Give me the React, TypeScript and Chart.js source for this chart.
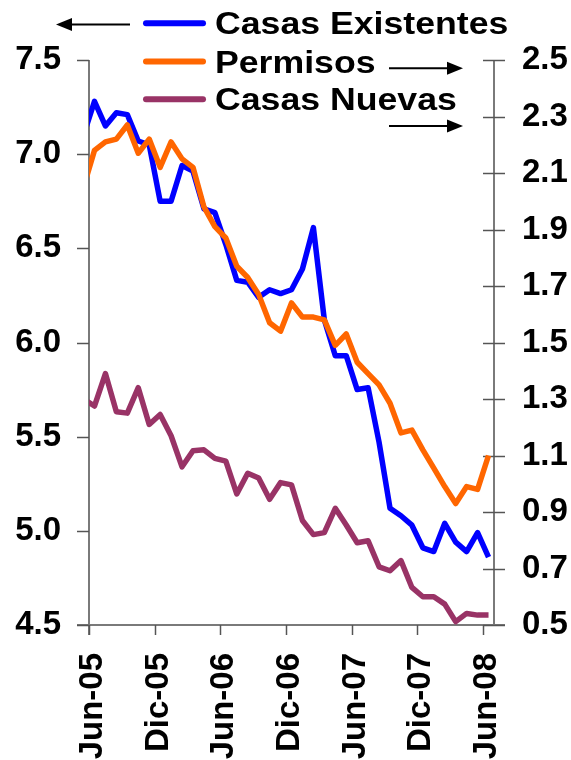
import React, { useEffect, useRef } from 'react';
import { Chart, registerables } from 'chart.js';

Chart.register(...registerables);

// Meses (el primero, May-05, queda recortado por el eje izquierdo)
const meses = [
  'May-05', 'Jun-05', 'Jul-05', 'Ago-05', 'Sep-05', 'Oct-05', 'Nov-05', 'Dic-05',
  'Ene-06', 'Feb-06', 'Mar-06', 'Abr-06', 'May-06', 'Jun-06', 'Jul-06', 'Ago-06',
  'Sep-06', 'Oct-06', 'Nov-06', 'Dic-06', 'Ene-07', 'Feb-07', 'Mar-07', 'Abr-07',
  'May-07', 'Jun-07', 'Jul-07', 'Ago-07', 'Sep-07', 'Oct-07', 'Nov-07', 'Dic-07',
  'Ene-08', 'Feb-08', 'Mar-08', 'Abr-08', 'May-08', 'Jun-08',
];

// Eje izquierdo (millones)
const casasExistentes = [
  7.10, 7.28, 7.15, 7.22, 7.21, 7.07, 7.05, 6.75, 6.75, 6.94, 6.91, 6.71, 6.69,
  6.52, 6.33, 6.32, 6.24, 6.28, 6.26, 6.28, 6.39, 6.61, 6.12, 5.93, 5.93,
  5.75, 5.76, 5.47, 5.12, 5.08, 5.03, 4.91, 4.89, 5.04, 4.94, 4.89, 4.99, 4.86,
];

// Eje derecho (millones)
const permisos = [
  2.05, 2.18, 2.21, 2.22, 2.27, 2.17, 2.22, 2.12, 2.21, 2.15, 2.12, 1.98, 1.91,
  1.87, 1.77, 1.73, 1.67, 1.57, 1.54, 1.64, 1.59, 1.59, 1.58, 1.49, 1.53,
  1.43, 1.39, 1.35, 1.285, 1.18, 1.19, 1.12, 1.055, 0.99, 0.93, 0.99, 0.98, 1.10,
];

const casasNuevas = [
  1.30, 1.275, 1.39, 1.255, 1.25, 1.34, 1.21, 1.245, 1.17, 1.06, 1.117, 1.12, 1.09,
  1.08, 0.964, 1.037, 1.02, 0.945, 1.004, 0.996, 0.87, 0.82, 0.827, 0.913, 0.854,
  0.791, 0.798, 0.706, 0.692, 0.728, 0.633, 0.60, 0.60, 0.574, 0.512, 0.541, 0.535, 0.535,
];

const nombresSeries = ['Casas Existentes', 'Permisos', 'Casas Nuevas'];
const coloresSeries = ['#0000FF', '#FF6600', '#993366'];

const etiquetasX = ['Jun-05', 'Dic-05', 'Jun-06', 'Dic-06', 'Jun-07', 'Dic-07', 'Jun-08'];
const ticksIzq = [4.5, 5.0, 5.5, 6.0, 6.5, 7.0, 7.5];
const ticksDer = [0.5, 0.7, 0.9, 1.1, 1.3, 1.5, 1.7, 1.9, 2.1, 2.3, 2.5];

const FONT = "'Liberation Sans', Arial, Helvetica, sans-serif";

// month-start position of a label (Jun-05 start = 0); data sits mid-month
const posTick = (l: string) => meses.indexOf(l) - 1;
const posDato = (i: number) => i - 0.5;

const ejesPlugin = {
  id: 'ejes',
  beforeDatasetsDraw(chart: any) {
    const { ctx, chartArea: a, scales } = chart;
    const xs = scales.x, yl = scales.y, yr = scales.y1;
    const line = (x1: number, y1: number, x2: number, y2: number) => {
      ctx.beginPath();
      ctx.moveTo(x1, y1);
      ctx.lineTo(x2, y2);
      ctx.stroke();
    };
    ctx.save();
    ctx.lineCap = 'butt';
    ctx.strokeStyle = '#7a7a7a';
    ctx.lineWidth = 2;
    line(a.left, a.top, a.left, a.bottom + 10);
    line(a.right, a.top, a.right, a.bottom);
    line(a.left - 12, a.bottom, a.right + 11, a.bottom);
    ctx.strokeStyle = '#555';
    ctx.lineWidth = 1.5;
    yl.ticks.forEach((t: any) => {
      const y = Math.round(yl.getPixelForValue(t.value)) + 0.5;
      line(a.left - 12, y, a.left, y);
    });
    yr.ticks.forEach((t: any) => {
      const y = Math.round(yr.getPixelForValue(t.value)) + 0.5;
      line(a.right - 11, y, a.right + 11, y);
    });
    xs.ticks.forEach((t: any) => {
      const x = Math.round(xs.getPixelForValue(t.value)) + 0.5;
      line(x, a.bottom, x, a.bottom + 10);
    });
    ctx.restore();
  },
};

const leyendaPlugin = {
  id: 'leyenda',
  afterDraw(chart: any) {
    const { ctx } = chart;
    ctx.save();
    const baselines = [34.3, 72.6, 110.2];
    nombresSeries.forEach((n, i) => {
      ctx.strokeStyle = coloresSeries[i];
      ctx.lineWidth = 6;
      ctx.lineCap = 'round';
      ctx.beginPath();
      ctx.moveTo(146, baselines[i] - 11);
      ctx.lineTo(203, baselines[i] - 11);
      ctx.stroke();
      ctx.fillStyle = '#000';
      ctx.font = `bold 31px ${FONT}`;
      ctx.textAlign = 'left';
      ctx.textBaseline = 'alphabetic';
      ctx.save();
      ctx.translate(215, baselines[i]);
      ctx.scale(1.15, 1);
      ctx.fillText(n, 0, 0);
      ctx.restore();
    });
    const flecha = (x1: number, x2: number, y: number) => {
      const dir = Math.sign(x2 - x1);
      ctx.strokeStyle = '#000';
      ctx.fillStyle = '#000';
      ctx.lineWidth = 2;
      ctx.lineCap = 'butt';
      ctx.beginPath();
      ctx.moveTo(x1, y);
      ctx.lineTo(x2 - dir * 14, y);
      ctx.stroke();
      ctx.beginPath();
      ctx.moveTo(x2, y);
      ctx.lineTo(x2 - dir * 16, y - 6.5);
      ctx.lineTo(x2 - dir * 16, y + 6.5);
      ctx.closePath();
      ctx.fill();
    };
    flecha(130, 56, 24.5);
    flecha(389, 463, 68.3);
    flecha(389, 463, 126);
    ctx.restore();
  },
};

export default function App() {
  const ref = useRef<HTMLCanvasElement | null>(null);

  useEffect(() => {
    const canvas = ref.current;
    if (!canvas) return;
    const mkFont = () => ({ family: FONT, size: 33, weight: 'bold' as const });
    const mk = (vals: number[]) => vals.map((v, i) => ({ x: posDato(i), y: v }));
    const clip = { left: 0, top: 10, right: 10, bottom: 10 };
    const chart = new Chart(canvas, {
      type: 'line',
      data: {
        datasets: [
          {
            label: nombresSeries[1],
            data: mk(permisos),
            yAxisID: 'y1',
            borderColor: coloresSeries[1],
            backgroundColor: coloresSeries[1],
            borderWidth: 5.5,
            pointRadius: 0,
            borderJoinStyle: 'round',
            tension: 0,
            clip,
            order: 1,
          },
          {
            label: nombresSeries[0],
            data: mk(casasExistentes),
            yAxisID: 'y',
            borderColor: coloresSeries[0],
            backgroundColor: coloresSeries[0],
            borderWidth: 5.5,
            pointRadius: 0,
            borderJoinStyle: 'round',
            tension: 0,
            clip,
            order: 2,
          },
          {
            label: nombresSeries[2],
            data: mk(casasNuevas),
            yAxisID: 'y1',
            borderColor: coloresSeries[2],
            backgroundColor: coloresSeries[2],
            borderWidth: 5.5,
            pointRadius: 0,
            borderJoinStyle: 'round',
            tension: 0,
            clip,
            order: 3,
          },
        ],
      },
      options: {
        animation: false,
        responsive: false,
        maintainAspectRatio: false,
        devicePixelRatio: 1,
        font: { family: FONT, weight: 'bold', size: 33 },
        layout: { padding: { top: 60, left: 0, right: 0, bottom: 0 } },
        plugins: {
          legend: { display: false },
          tooltip: { enabled: false },
          title: { display: false },
        },
        scales: {
          x: {
            type: 'linear',
            min: 0,
            max: 37,
            grid: { display: false, drawTicks: false },
            border: { display: false },
            afterBuildTicks: (s: any) => {
              s.ticks = etiquetasX.map((l) => ({ value: posTick(l) }));
            },
            afterFit: (s: any) => {
              s.height = 135;
            },
            ticks: {
              autoSkip: false,
              maxRotation: 90,
              minRotation: 90,
              padding: 28,
              labelOffset: 4,
              color: '#000',
              font: mkFont(),
              callback: (v: any) => {
                const idx = etiquetasX.findIndex((l) => posTick(l) === v);
                return idx >= 0 ? etiquetasX[idx] : '';
              },
            },
          },
          y: {
            type: 'linear',
            position: 'left',
            min: 4.5,
            max: 7.5,
            grid: { display: false, drawTicks: false },
            border: { display: false },
            afterBuildTicks: (s: any) => {
              s.ticks = ticksIzq.map((v) => ({ value: v }));
            },
            afterFit: (s: any) => {
              s.width = 89;
            },
            ticks: {
              padding: 28,
              color: '#000',
              font: mkFont(),
              callback: (v: any) => Number(v).toFixed(1),
            },
          },
          y1: {
            type: 'linear',
            position: 'right',
            min: 0.5,
            max: 2.5,
            grid: { display: false, drawTicks: false },
            border: { display: false },
            afterBuildTicks: (s: any) => {
              s.ticks = ticksDer.map((v) => ({ value: v }));
            },
            afterFit: (s: any) => {
              s.width = 77;
            },
            ticks: {
              padding: 28,
              color: '#000',
              font: mkFont(),
              callback: (v: any) => Number(v).toFixed(1),
            },
          },
        },
      },
      plugins: [ejesPlugin, leyendaPlugin],
    } as any);
    return () => chart.destroy();
  }, []);

  return (
    <div style={{ position: 'absolute', left: 0, top: 0, width: 571, height: 760, background: '#fff' }}>
      <canvas ref={ref} width={571} height={760} style={{ display: 'block', width: 571, height: 760 }} />
    </div>
  );
}
